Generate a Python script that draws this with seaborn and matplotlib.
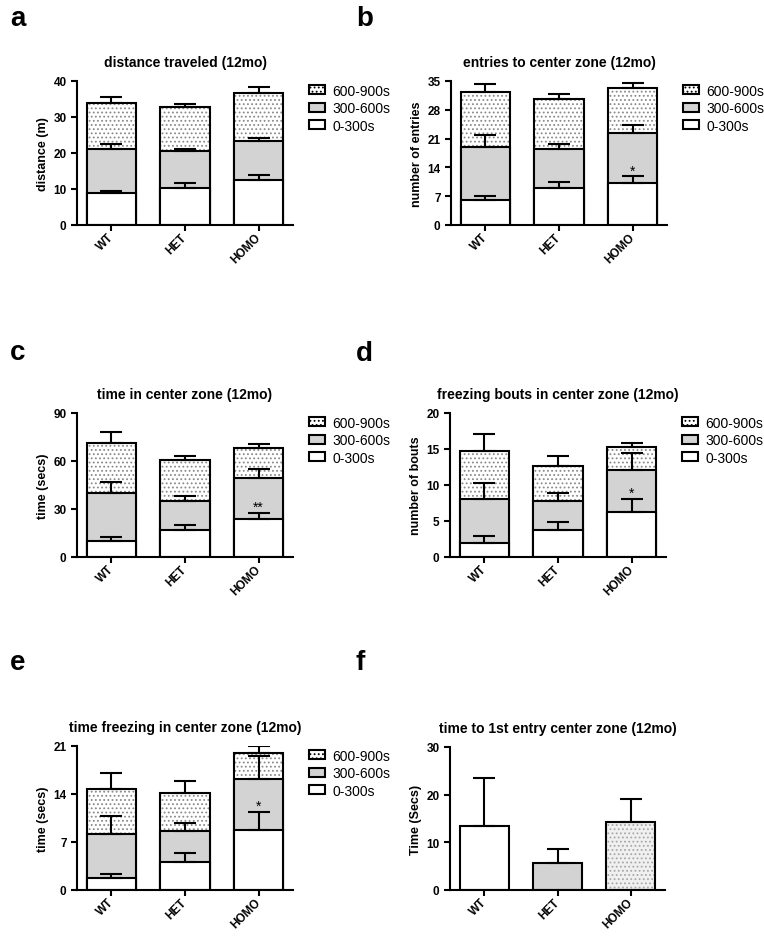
import numpy as np
import pandas as pd
import seaborn as sns
import matplotlib.pyplot as plt
from matplotlib.patches import Patch

groups = ['WT', 'HET', 'HOMO']
segments = ['0-300s', '300-600s', '600-900s']

# segment means (0-300s, 300-600s, 600-900s) per genotype, and SEM
dist_mean = [[8.9, 10.3, 12.4], [12.2, 10.2, 10.8], [12.9, 12.4, 13.5]]
dist_err = [[0.6, 1.5, 1.6], [1.4, 0.7, 1.1], [1.5, 0.8, 1.7]]

entries_mean = [[6.0, 9.0, 10.3], [13.0, 9.4, 12.1], [13.4, 12.2, 10.9]]
entries_err = [[1.0, 1.5, 1.5], [2.8, 1.4, 1.8], [1.9, 1.2, 1.3]]

center_mean = [[10.0, 17.0, 23.8], [30.0, 18.1, 25.4], [31.1, 25.4, 19.0]]
center_err = [[2.3, 2.9, 4.0], [7.1, 3.0, 6.0], [6.9, 2.9, 2.3]]

bouts_mean = [[2.0, 3.7, 6.2], [6.0, 4.1, 5.9], [6.7, 4.9, 3.2]]
bouts_err = [[0.9, 1.2, 1.9], [2.3, 1.1, 2.3], [2.4, 1.3, 0.6]]

freeze_mean = [[1.7, 4.15, 8.7], [6.4, 4.45, 7.5], [6.7, 5.6, 3.8]]
freeze_err = [[0.7, 1.25, 2.7], [2.7, 1.1, 3.3], [2.3, 1.7, 1.0]]

first_mean = [13.5, 5.6, 14.2]
first_err = [10.1, 3.1, 4.9]

GRAY = '#d3d3d3'
DOTS = '#8a8a8a'
LW = 1.5
W = 0.67

sns.set_style('ticks')
plt.rcParams['font.family'] = ['Liberation Sans', 'DejaVu Sans']
plt.rcParams['hatch.linewidth'] = 0.8
plt.rcParams['text.color'] = 'black'
plt.rcParams['axes.labelcolor'] = 'black'

fig = plt.figure(figsize=(7.64, 9.37), dpi=100)


def make_ax(l, r, t, b):
    return fig.add_axes([l / 764, 1 - b / 937, (r - l) / 764, (b - t) / 937])


def style_ax(ax, title, ylabel, ymax, step):
    ax.set_ylim(0, ymax)
    ax.set_yticks(np.arange(0, ymax + step / 2, step))
    ax.set_xticks(range(3))
    ax.set_xticklabels(groups, rotation=45, ha='right', va='center',
                       rotation_mode='anchor', fontweight='bold', fontsize=8.5)
    ax.set_xlabel('')
    ax.set_ylabel(ylabel, fontsize=9, fontweight='bold', labelpad=3)
    ax.set_title(title, fontsize=10, fontweight='bold', pad=11, color='black')
    ax.tick_params(width=LW, length=4, color='black', labelcolor='black')
    plt.setp(ax.get_yticklabels(), fontweight='bold', fontsize=8.5)
    for s in ['left', 'bottom']:
        ax.spines[s].set_linewidth(LW)
        ax.spines[s].set_color('black')
    sns.despine(ax=ax)


def stacked(ax, means, errs, title, ylabel, ymax, step, star=''):
    tops = np.cumsum(np.array(means), axis=0)
    df = pd.DataFrame({'group': groups})
    for i, seg in enumerate(segments):
        df[seg] = tops[i]
    # tallest first, lower parts drawn over it
    sns.barplot(data=df, x='group', y=segments[2], color='white', saturation=1,
                width=W, hatch='....', edgecolor=DOTS, linewidth=0,
                errorbar=None, ax=ax)
    sns.barplot(data=df, x='group', y=segments[2], color='black', fill=False,
                width=W, linewidth=LW, errorbar=None, ax=ax)
    sns.barplot(data=df, x='group', y=segments[1], color=GRAY, saturation=1,
                width=W, edgecolor='black', linewidth=LW, errorbar=None, ax=ax)
    sns.barplot(data=df, x='group', y=segments[0], color='white', saturation=1,
                width=W, edgecolor='black', linewidth=LW, errorbar=None, ax=ax)
    for i in range(3):
        ax.errorbar(np.arange(3), tops[i], yerr=[np.zeros(3), errs[i]], fmt='none',
                    ecolor='black', elinewidth=LW, capsize=8, capthick=LW, zorder=5)
    if star:
        ax.text(2, tops[0][2] + errs[0][2] + 0.04 * ymax, star, ha='center',
                va='center', fontsize=10, zorder=6)
    handles = [Patch(facecolor='white', edgecolor='black', hatch='....', linewidth=LW),
               Patch(facecolor=GRAY, edgecolor='black', linewidth=LW),
               Patch(facecolor='white', edgecolor='black', linewidth=LW)]
    ax.legend(handles, segments[::-1], loc='upper left', bbox_to_anchor=(1.05, 1.02),
              frameon=False, fontsize=10, handlelength=1.15, handleheight=0.6,
              handletextpad=0.5, labelspacing=0.25, borderaxespad=0)
    style_ax(ax, title, ylabel, ymax, step)


ax = make_ax(77, 293, 82, 226)
stacked(ax, dist_mean, dist_err, 'distance traveled (12mo)', 'distance (m)', 40, 10)

ax = make_ax(451, 667, 82, 226)
stacked(ax, entries_mean, entries_err, 'entries to center zone (12mo)',
        'number of entries', 35, 7, '*')

ax = make_ax(77, 293, 414, 558)
stacked(ax, center_mean, center_err, 'time in center zone (12mo)', 'time (secs)', 90, 30, '**')

ax = make_ax(450, 666, 414, 558)
stacked(ax, bouts_mean, bouts_err, 'freezing bouts in center zone (12mo)',
        'number of bouts', 20, 5, '*')

ax = make_ax(77, 293, 747, 891)
stacked(ax, freeze_mean, freeze_err, 'time freezing in center zone (12mo)',
        'time (secs)', 21, 7, '*')

# f: single bars
ax = make_ax(450, 665, 748, 891)
df_f = pd.DataFrame({'group': groups, 'time': first_mean})
sns.barplot(data=df_f, x='group', y='time', hue='group',
            palette=dict(zip(groups, ['white', GRAY, '#f0f0f0'])), saturation=1,
            width=W, edgecolor='#a8a8a8', linewidth=0, legend=False, errorbar=None, ax=ax)
for p, h in zip(ax.patches, ['', '', '....']):
    p.set_hatch(h)
sns.barplot(data=df_f, x='group', y='time', color='black', fill=False,
            width=W, linewidth=LW, errorbar=None, ax=ax)
ax.errorbar(np.arange(3), first_mean, yerr=[np.zeros(3), first_err], fmt='none',
            ecolor='black', elinewidth=LW, capsize=8, capthick=LW, zorder=5)
style_ax(ax, 'time to 1st entry center zone (12mo)', 'Time (Secs)', 30, 10)

for letter, x, y in [('a', 10, 6), ('b', 356, 6), ('c', 10, 340), ('d', 356, 341),
                     ('e', 10, 650), ('f', 355, 650)]:
    fig.text(x / 764, 1 - y / 937, letter, fontsize=20, fontweight='bold', va='top',
             color='black')

fig.savefig('out.png', dpi=100)
